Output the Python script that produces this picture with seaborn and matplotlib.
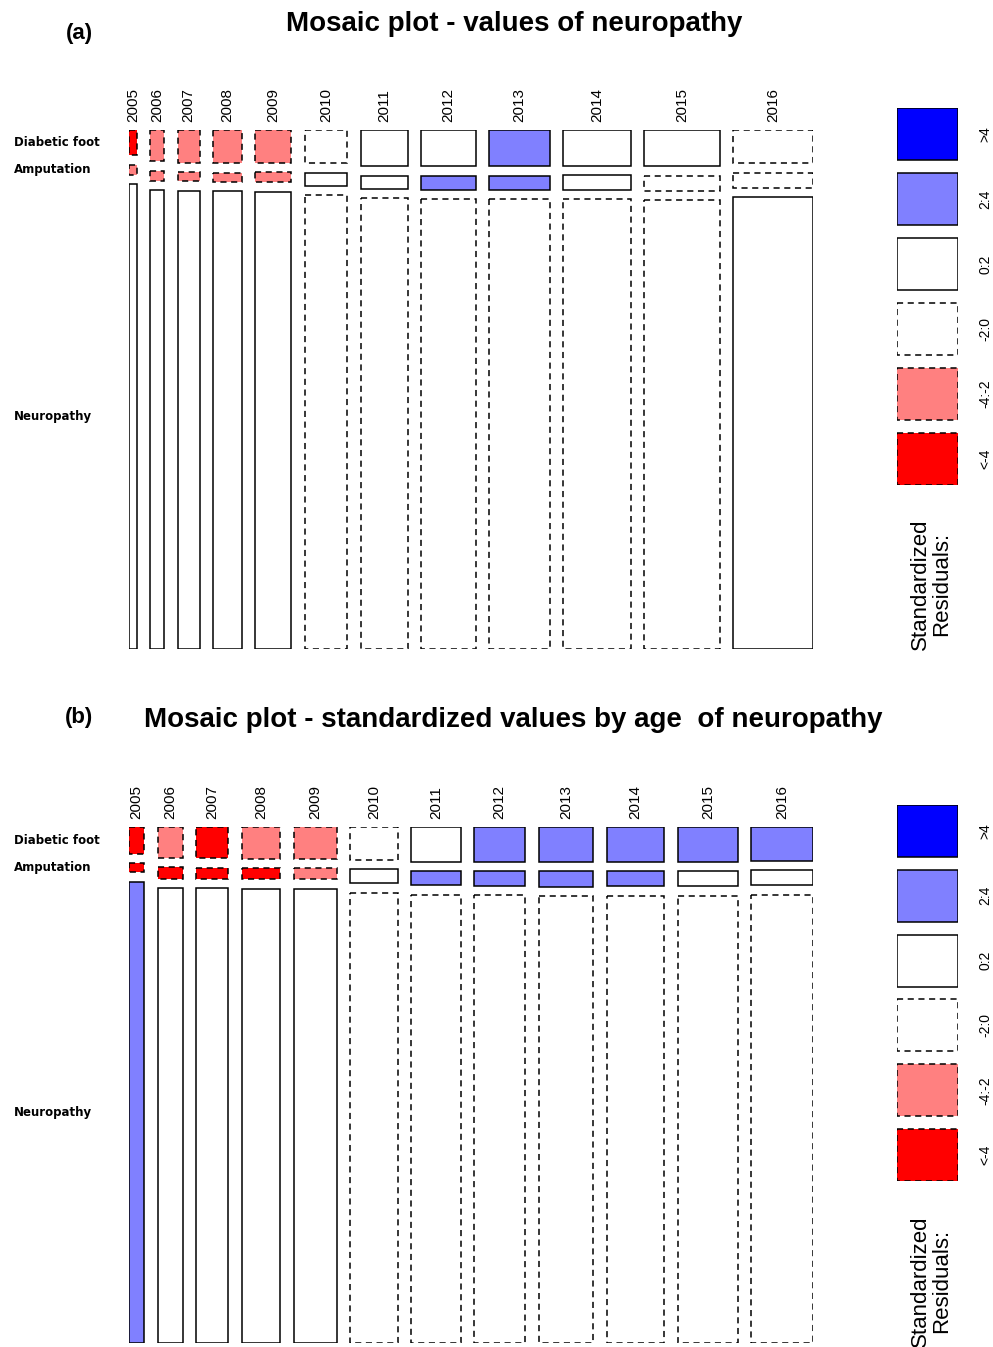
import numpy as np
import matplotlib
matplotlib.use("Agg")
import matplotlib.pyplot as plt
import matplotlib.transforms as mtransforms
import seaborn as sns

sns.set_theme(style="white", rc={"text.color": "black"})
plt.rcParams["font.family"] = ["Liberation Sans", "DejaVu Sans"]

# categories
years = ["2005", "2006", "2007", "2008", "2009", "2010",
         "2011", "2012", "2013", "2014", "2015", "2016"]
rows = ["Diabetic foot", "Amputation", "Neuropathy"]

# panel (a) - counts
a_foot = [10, 22, 36, 48, 59, 71, 85, 99, 110, 122, 137, 132]
a_amput = [4, 7, 10, 13, 18, 28, 31, 39, 43, 48, 57, 60]
a_neuro = [186, 321, 504, 664, 823, 976, 1059, 1237, 1372, 1530, 1706, 1808]
# residual class of each tile: 2 '>4', 1 '2:4', 0 '0:2', -1 '-2:0', -2 '-4:-2', -3 '<-4'
a_foot_res = [-3, -2, -2, -2, -2, -1, 0, 0, 1, 0, 0, -1]
a_amput_res = [-2, -2, -2, -2, -2, 0, 0, 1, 1, 0, -1, -1]
a_neuro_res = [0, 0, 0, 0, 0, -1, -1, -1, -1, -1, -1, 0]

# panel (b) - standardized by age
b_foot = [20, 39, 50, 61, 69, 78, 86, 89, 95, 100, 105, 104]
b_amput = [7, 14, 18, 21, 24, 33, 34, 38, 41, 43, 45, 46]
b_neuro = [348, 572, 732, 868, 982, 1064, 1105, 1148, 1214, 1282, 1350, 1375]
b_foot_res = [-3, -2, -3, -2, -2, -1, 0, 1, 1, 1, 1, 1]
b_amput_res = [-3, -3, -3, -3, -2, 0, 1, 1, 1, 1, 0, 0]
b_neuro_res = [1, 0, 0, 0, 0, -1, -1, -1, -1, -1, -1, -1]

legend_labels = [">4", "2:4", "0:2", "-2:0", "-4:-2", "<-4"]
legend_levels = [2, 1, 0, -1, -2, -3]

fills = {2: "#0000FF", 1: "#8080FF", 0: "white", -1: "white",
         -2: "#FF8080", -3: "#FF0000"}
DASH = (0, (4, 3))
W, H = 993, 1347

fig = plt.figure(figsize=(W / 100, H / 100), dpi=100)


def px_axes(x0, y0, x1, y1):
    return fig.add_axes([x0 / W, 1 - y1 / H, (x1 - x0) / W, (y1 - y0) / H])


def mosaic(ax, counts, res, xgap=0.025, ygap=0.019):
    counts = np.array(counts, dtype=float)
    totals = counts.sum(axis=0)
    widths = totals / totals.sum()
    n = len(widths)
    lefts = np.concatenate([[0], np.cumsum(widths)[:-1]]) + np.arange(n) * xgap
    props = counts / totals
    tops = np.vstack([np.zeros(n), np.cumsum(props, axis=0)[:-1]])
    tops = tops + np.arange(len(counts))[:, None] * ygap
    for r in range(len(counts)):
        bars = ax.bar(lefts, props[r], width=widths, bottom=tops[r], align="edge",
                      color=[fills[v] for v in res[r]], edgecolor="black", linewidth=1.1)
        for patch, v in zip(bars.patches, res[r]):
            if v < 0:
                patch.set_linestyle(DASH)
    ax.set_xlim(0, 1 + (n - 1) * xgap)
    ax.set_ylim(1 + (len(counts) - 1) * ygap, 0)
    ax.set_axis_off()
    # year labels above the columns
    for x, w, yr in zip(lefts, widths, years):
        ax.annotate(yr, xy=(x + w / 2, 1), xycoords=("data", "axes fraction"),
                    xytext=(0, 6), textcoords="offset points", rotation=90,
                    ha="center", va="bottom", fontsize=11)
    # row labels centred on the first column
    tr = mtransforms.blended_transform_factory(fig.transFigure, ax.transData)
    for r, lab in enumerate(rows):
        yc = tops[r, 0] + props[r, 0] / 2
        ax.text(14 / W, yc, lab, transform=tr, ha="left", va="center",
                fontsize=8.5, fontweight="bold", family="DejaVu Sans")


def legend(ax):
    pitch, box = 1.0, 0.8
    pos = np.arange(len(legend_levels)) * pitch
    bars = ax.bar([0] * len(pos), [box] * len(pos), width=1, bottom=pos, align="edge",
                  color=[fills[v] for v in legend_levels], edgecolor="black", linewidth=1.1)
    for patch, v in zip(bars.patches, legend_levels):
        if v < 0:
            patch.set_linestyle(DASH)
    for p, lab in zip(pos, legend_labels):
        ax.annotate(lab, xy=(1, p + box / 2), xycoords="data", xytext=(19.5, 0),
                    textcoords="offset points", rotation=90, ha="center", va="center",
                    fontsize=10)
    ax.set_xlim(0, 1)
    ax.set_ylim(pos[-1] + box, 0)
    ax.set_axis_off()


# panel (a)
ax_a = px_axes(129, 130, 813, 649)
mosaic(ax_a, [a_foot, a_amput, a_neuro], [a_foot_res, a_amput_res, a_neuro_res])
legend(px_axes(897, 108, 958, 485))
fig.text(79 / W, 1 - 33 / H, "(a)", ha="center", va="center", fontsize=16, fontweight="bold")
fig.text(514 / W, 1 - 24 / H, "Mosaic plot - values of neuropathy",
         ha="center", va="center", fontsize=20, fontweight="bold")
fig.text(931 / W, 1 - 650 / H, "Standardized\nResiduals:", rotation=90,
         ha="center", va="bottom", fontsize=16, linespacing=1.0)

# panel (b)
ax_b = px_axes(129, 827, 813, 1343)
mosaic(ax_b, [b_foot, b_amput, b_neuro], [b_foot_res, b_amput_res, b_neuro_res])
legend(px_axes(897, 805, 958, 1181))
fig.text(79 / W, 1 - 718 / H, "(b)", ha="center", va="center", fontsize=16, fontweight="bold")
fig.text(513 / W, 1 - 720 / H, "Mosaic plot - standardized values by age  of neuropathy",
         ha="center", va="center", fontsize=20, fontweight="bold")
fig.text(931 / W, 1 - 1347 / H, "Standardized\nResiduals:", rotation=90,
         ha="center", va="bottom", fontsize=16, linespacing=1.0)

fig.savefig("out.png", dpi=100)
